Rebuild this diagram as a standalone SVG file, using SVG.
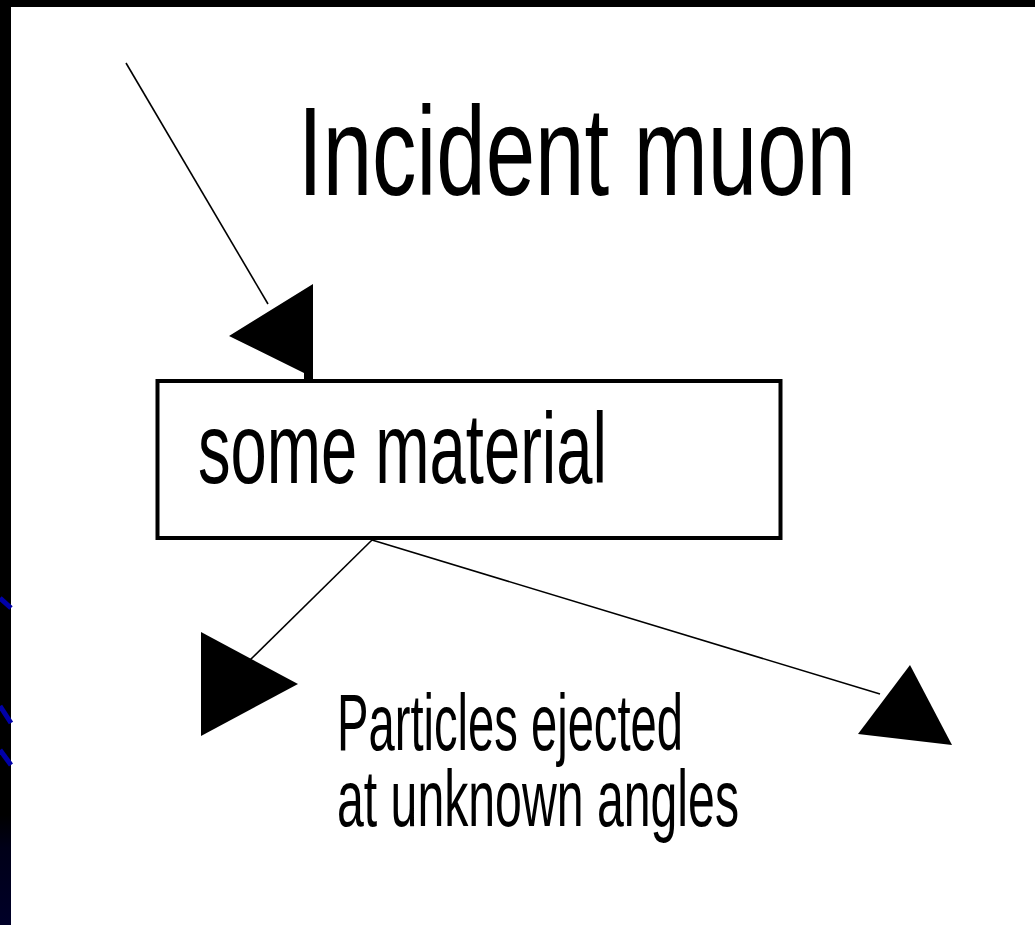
<svg xmlns="http://www.w3.org/2000/svg" width="1035" height="925" viewBox="0 0 1035 925">
<defs>
<style>
.t{font-family:"Liberation Sans","DejaVu Sans",sans-serif;fill:#000}
.ln{stroke:#000;stroke-width:1.6;fill:none}
.ah{fill:#000;stroke:none}
.bl{stroke:#0000a8;stroke-width:5}
</style>
<linearGradient id="navy" x1="0" y1="0" x2="0" y2="1">
<stop offset="0" stop-color="#000000"/>
<stop offset="0.3" stop-color="#000018"/>
<stop offset="1" stop-color="#000028"/>
</linearGradient>
</defs>
<rect x="0" y="0" width="1035" height="925" fill="#ffffff"/>
<g id="frame">
<rect x="0" y="0" width="1035" height="7" fill="#000"/>
<rect x="0" y="0" width="11" height="925" fill="#000"/>
<rect x="0" y="815" width="11" height="110" fill="url(#navy)"/>
<line class="bl" x1="0" y1="598" x2="11" y2="608"/>
<line class="bl" x1="0" y1="706" x2="11" y2="723"/>
<line class="bl" x1="0" y1="750" x2="11" y2="765"/>
</g>
<g id="title">
<text class="t" x="298" y="195" font-size="126" textLength="558" lengthAdjust="spacingAndGlyphs">Incident muon</text>
</g>
<g id="material">
<rect x="157.5" y="381" width="623" height="157" fill="#fff" stroke="#000" stroke-width="4"/>
<text class="t" x="198" y="483" font-size="100" textLength="409" lengthAdjust="spacingAndGlyphs">some material</text>
</g>
<g id="caption">
<text class="t" x="337" y="750" font-size="80" textLength="346" lengthAdjust="spacingAndGlyphs">Particles ejected</text>
<text class="t" x="337" y="826" font-size="80" textLength="402" lengthAdjust="spacingAndGlyphs">at unknown angles</text>
</g>
<g id="connectors">
<line class="ln" x1="126" y1="63" x2="268" y2="304"/>
<polygon class="ah" points="229,336 313,284 313,380 304,380 304,373"/>
<line class="ln" x1="372" y1="540" x2="250" y2="660"/>
<polygon class="ah" points="201,632 298,684 201,736"/>
<line class="ln" x1="372" y1="540" x2="880" y2="694"/>
<polygon class="ah" points="910,665 858,734 952,745"/>
</g>
</svg>
